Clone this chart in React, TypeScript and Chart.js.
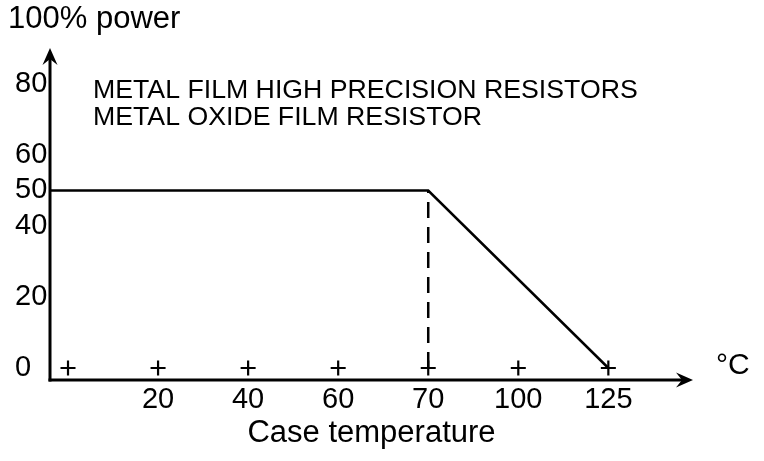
import { useEffect, useRef } from "react";
import { Chart, registerables } from "chart.js";

Chart.register(...registerables);

// ---- data ----
const categories = ["0", "20", "40", "60", "70", "100", "125"]; // case temperature, °C
const xTickLabels = ["", "20", "40", "60", "70", "100", "125"];
const yTickValues = [0, 20, 40, 50, 60, 80];
const deratingTemps = ["70", "125"]; // after the flat part that starts at the axis
const deratingPower = [50, 50, 0]; // first value starts at the y axis
const kneeTemp = "70";
const kneePower = 50;
const noteLines = ["METAL FILM HIGH PRECISION RESISTORS", "METAL OXIDE FILM RESISTOR"];
const yAxisTitle = "100% power";
const xAxisTitle = "Case temperature";
const xUnit = "°C";

const X_MIN = -0.2;
const X_MAX = 6.94;
const Y_MIN = -3.38;
const Y_MAX = 90.14;
const FONT = "'Liberation Sans', Arial, Helvetica, sans-serif";

const idx = (t: string) => categories.indexOf(t);

export default function App() {
  const ref = useRef<HTMLCanvasElement | null>(null);

  useEffect(() => {
    if (!ref.current) return;

    const linePoints = [
      { x: X_MIN, y: deratingPower[0] },
      ...deratingTemps.map((t, i) => ({ x: idx(t), y: deratingPower[i + 1] })),
    ];
    const dashPoints = [
      { x: idx(kneeTemp), y: 0 },
      { x: idx(kneeTemp), y: kneePower },
    ];
    const crossPoints = categories.map((_, i) => ({ x: i, y: 0 }));

    const decor = {
      id: "decor",
      afterDatasetsDraw(chart: any) {
        const { ctx, chartArea } = chart;
        const { left, right, top, bottom } = chartArea;
        ctx.save();
        ctx.strokeStyle = "#000";
        ctx.fillStyle = "#000";
        ctx.lineWidth = 3;
        // y axis
        ctx.beginPath();
        ctx.moveTo(left, bottom + 1.5);
        ctx.lineTo(left, top + 6);
        ctx.stroke();
        ctx.beginPath();
        ctx.moveTo(left, top);
        ctx.lineTo(left - 7.5, top + 17);
        ctx.lineTo(left, top + 11);
        ctx.lineTo(left + 7.5, top + 17);
        ctx.closePath();
        ctx.fill();
        // x axis
        ctx.beginPath();
        ctx.moveTo(left - 1.5, bottom);
        ctx.lineTo(right - 6, bottom);
        ctx.stroke();
        ctx.beginPath();
        ctx.moveTo(right, bottom);
        ctx.lineTo(right - 17, bottom - 7.5);
        ctx.lineTo(right - 11, bottom);
        ctx.lineTo(right - 17, bottom + 7.5);
        ctx.closePath();
        ctx.fill();
        // texts
        ctx.textBaseline = "middle";
        ctx.textAlign = "left";
        ctx.font = `31px ${FONT}`;
        ctx.fillText(yAxisTitle, 8, 19);
        ctx.font = `30px ${FONT}`;
        ctx.fillText(xUnit, 716, 366);
        ctx.font = `26.7px ${FONT}`;
        noteLines.forEach((l, i) => ctx.fillText(l, 93, 91 + i * 27));
        ctx.restore();
      },
    };

    const chart = new Chart(ref.current, {
      type: "scatter",
      data: {
        datasets: [
          {
            data: linePoints,
            showLine: true,
            borderColor: "#000",
            borderWidth: 2.5,
            pointRadius: 0,
          },
          {
            data: dashPoints,
            showLine: true,
            borderColor: "#000",
            borderWidth: 2.5,
            borderDash: [16, 9],
            pointRadius: 0,
          },
          {
            data: crossPoints,
            showLine: false,
            pointStyle: "cross",
            pointRadius: 7.5,
            borderColor: "#000",
            borderWidth: 2.2,
          },
        ],
      },
      options: {
        animation: false,
        responsive: true,
        maintainAspectRatio: false,
        layout: { padding: { left: 15, top: 48, right: 71, bottom: 0 } },
        plugins: { legend: { display: false }, tooltip: { enabled: false } },
        scales: {
          x: {
            type: "linear",
            min: X_MIN,
            max: X_MAX,
            grid: { display: false, drawTicks: false },
            border: { display: false },
            afterBuildTicks: (s: any) => {
              s.ticks = categories.map((_, i) => ({ value: i }));
            },
            afterFit: (s: any) => {
              s.height = 81;
            },
            ticks: {
              autoSkip: false,
              maxRotation: 0,
              padding: 3,
              color: "#000",
              font: { family: FONT, size: 29 },
              callback: (v: any) => xTickLabels[v as number] ?? "",
            },
            title: {
              display: true,
              text: xAxisTitle,
              color: "#000",
              font: { family: FONT, size: 31 },
              padding: { top: 0, bottom: 9 },
            },
          },
          y: {
            type: "linear",
            min: Y_MIN,
            max: Y_MAX,
            grid: { display: false, drawTicks: false },
            border: { display: false },
            afterBuildTicks: (s: any) => {
              s.ticks = yTickValues.map((v) => ({ value: v }));
            },
            afterFit: (s: any) => {
              s.width = 35;
            },
            ticks: {
              autoSkip: false,
              crossAlign: "far",
              padding: 0,
              color: "#000",
              font: { family: FONT, size: 29 },
              callback: (v: any) => String(v),
            },
          },
        },
      },
      plugins: [decor],
    });

    return () => chart.destroy();
  }, []);

  return (
    <div style={{ position: "fixed", left: 0, top: 0, width: 764, height: 461, background: "#fff" }}>
      <canvas ref={ref} />
    </div>
  );
}
